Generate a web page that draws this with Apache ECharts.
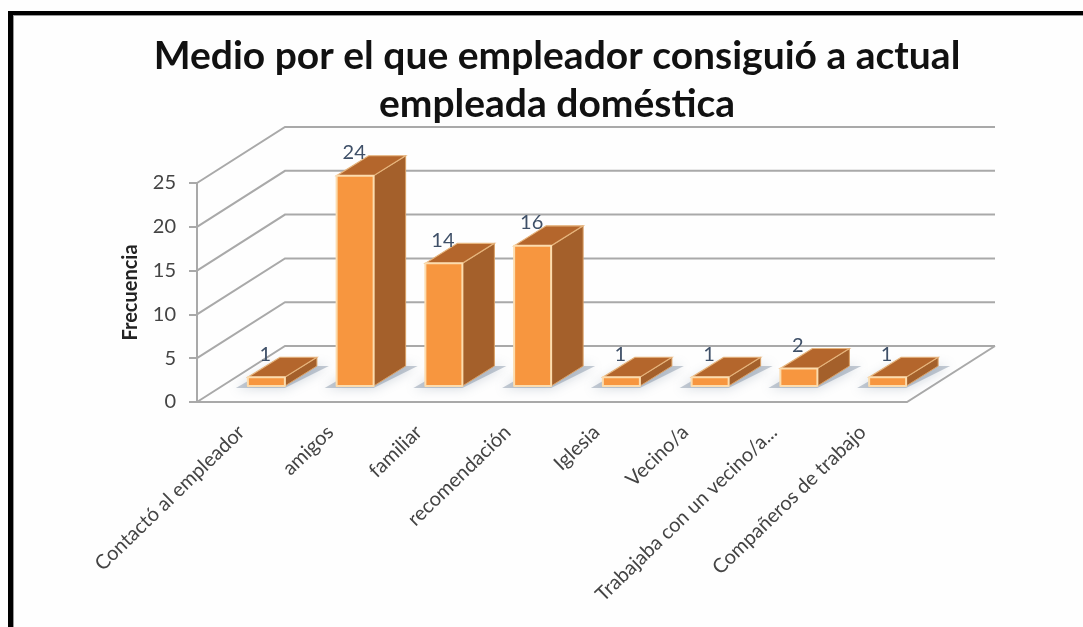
<!DOCTYPE html>
<html>
<head>
<meta charset="utf-8">
<style>html,body{margin:0;padding:0;background:#fff}#chart{width:1083px;height:627px}</style>
<script src="https://cdn.jsdelivr.net/npm/echarts@6/dist/echarts.min.js"></script>
</head>
<body>
<div id="chart"></div>
<script>
const categories = ['Contactó al empleador', 'amigos', 'familiar', 'recomendación', 'Iglesia', 'Vecino/a', 'Trabajaba con un vecino/a...', 'Compañeros de trabajo'];
const frecuencia = [1, 24, 14, 16, 1, 1, 2, 1];
const tickValues = [0, 5, 10, 15, 20, 25];
const chartTitle = 'Medio por el que empleador consiguió a actual\nempleada doméstica';
const yAxisName = 'Frecuencia';

// Oblique projection: how far the back wall sits behind the front plane, in pixels
const WALL_DX = 88, WALL_DY = -56;
const BAR_WIDTH = 37, BAR_DX = 32, BAR_DY = -20;
const BASE_DX = 25, BASE_DY = -16;

const chart = echarts.init(document.getElementById('chart'), null, {renderer: 'canvas'});

function poly(points, style, z2) {
  return {type: 'polygon', shape: {points}, style, z2: z2 || 0};
}

// Back wall, side wall and floor lines
function renderWalls(params, api) {
  const v = api.value(0);
  const lineStyle = {stroke: '#a9a9a9', lineWidth: 2, fill: null};
  const p = api.coord([0, v]);
  const left = params.coordSys.x;
  const right = left + params.coordSys.width;
  const y = p[1];
  const children = [{
    type: 'polyline',
    shape: {points: [[left, y], [left + WALL_DX, y + WALL_DY], [right + WALL_DX, y + WALL_DY]]},
    style: lineStyle
  }];
  if (v === 0) {
    children.push({
      type: 'polyline',
      shape: {points: [[right + WALL_DX, y + WALL_DY], [right, y], [left, y]]},
      style: {stroke: '#a9a9a9', lineWidth: 2, fill: null}
    });
  }
  return {type: 'group', children};
}

// One box per category: soft floor shadow, front, side and top faces, value label
function renderBar(params, api) {
  const idx = api.value(0);
  const val = api.value(1);
  const base = api.coord([idx, 0]);
  const top = api.coord([idx, val]);
  const cx = base[0] + BASE_DX;
  const x0 = cx - BAR_WIDTH / 2, x1 = cx + BAR_WIDTH / 2;
  const yb = base[1] + BASE_DY;
  const yt = top[1] + BASE_DY;
  const edge = {stroke: '#fcdcae', lineWidth: 2, lineJoin: 'round'};
  return {
    type: 'group',
    children: [
      poly([[x0 - 12, yb + 2], [x1, yb + 2], [x1 + BAR_DX + 12, yb + BAR_DY], [x0 + BAR_DX - 6, yb + BAR_DY]],
        {fill: 'rgba(110,128,150,0.4)', shadowBlur: 12, shadowColor: 'rgba(110,128,150,0.8)'}),
      poly([[x1, yb], [x1 + BAR_DX, yb + BAR_DY], [x1 + BAR_DX, yt + BAR_DY], [x1, yt]],
        {fill: '#a4602b', stroke: '#d9a066', lineWidth: 1}),
      poly([[x0, yt], [x1, yt], [x1 + BAR_DX, yt + BAR_DY], [x0 + BAR_DX, yt + BAR_DY]],
        {fill: '#b4662c', stroke: '#e6b47c', lineWidth: 1.2}),
      poly([[x0, yb], [x1, yb], [x1, yt], [x0, yt]],
        Object.assign({fill: '#f7963f'}, edge)),
      {
        type: 'text',
        style: {
          x: cx - 1, y: yt - 23, text: String(val),
          align: 'center', verticalAlign: 'middle',
          font: '20px Lato', fill: '#3f5068'
        }
      }
    ]
  };
}

chart.setOption({
  animation: false,
  backgroundColor: '#fefefe',
  title: {
    text: chartTitle,
    left: 552, top: 27, textAlign: 'center',
    textStyle: {fontFamily: 'Lato', fontWeight: 'bold', fontSize: 39, lineHeight: 48, color: '#111'}
  },
  grid: {left: 197, top: 183, width: 710, height: 219, containLabel: false},
  xAxis: {
    type: 'category',
    data: categories,
    boundaryGap: true,
    axisLine: {show: false},
    axisTick: {show: false},
    axisLabel: {
      rotate: 44, interval: 0, margin: 27, fontFamily: 'Lato', fontSize: 20, color: '#444'
    }
  },
  yAxis: {
    type: 'value',
    min: 0, max: 25, interval: 5,
    name: yAxisName,
    nameLocation: 'middle',
    nameGap: 56,
    nameTextStyle: {fontFamily: 'Lato', fontWeight: 'bold', fontSize: 20, color: '#222'},
    axisLine: {show: true, lineStyle: {color: '#a9a9a9', width: 2}},
    axisTick: {show: true, length: 8, lineStyle: {color: '#a9a9a9', width: 2}},
    axisLabel: {fontFamily: 'Lato', fontSize: 20, color: '#444', margin: 21, padding: [3, 0, 0, 0]},
    splitLine: {show: false}
  },
  series: [
    {
      type: 'custom',
      silent: true,
      coordinateSystem: 'cartesian2d',
      renderItem: renderWalls,
      encode: {y: 0},
      data: tickValues.map(v => [v]),
      z: 1
    },
    {
      type: 'custom',
      silent: true,
      coordinateSystem: 'cartesian2d',
      renderItem: renderBar,
      encode: {x: 0, y: 1},
      data: frecuencia.map((v, i) => [i, v]),
      z: 2
    }
  ],
  graphic: [
    {type: 'rect', shape: {x: 13, y: 15, width: 1070, height: 1}, style: {fill: '#999'}, z: 10},
    {type: 'rect', shape: {x: 13, y: 15, width: 1, height: 612}, style: {fill: '#999'}, z: 10},
    {type: 'rect', shape: {x: 8, y: 11, width: 1075, height: 4}, style: {fill: '#000'}, z: 10},
    {type: 'rect', shape: {x: 8, y: 11, width: 5, height: 616}, style: {fill: '#000'}, z: 10}
  ]
});
</script>
</body>
</html>
